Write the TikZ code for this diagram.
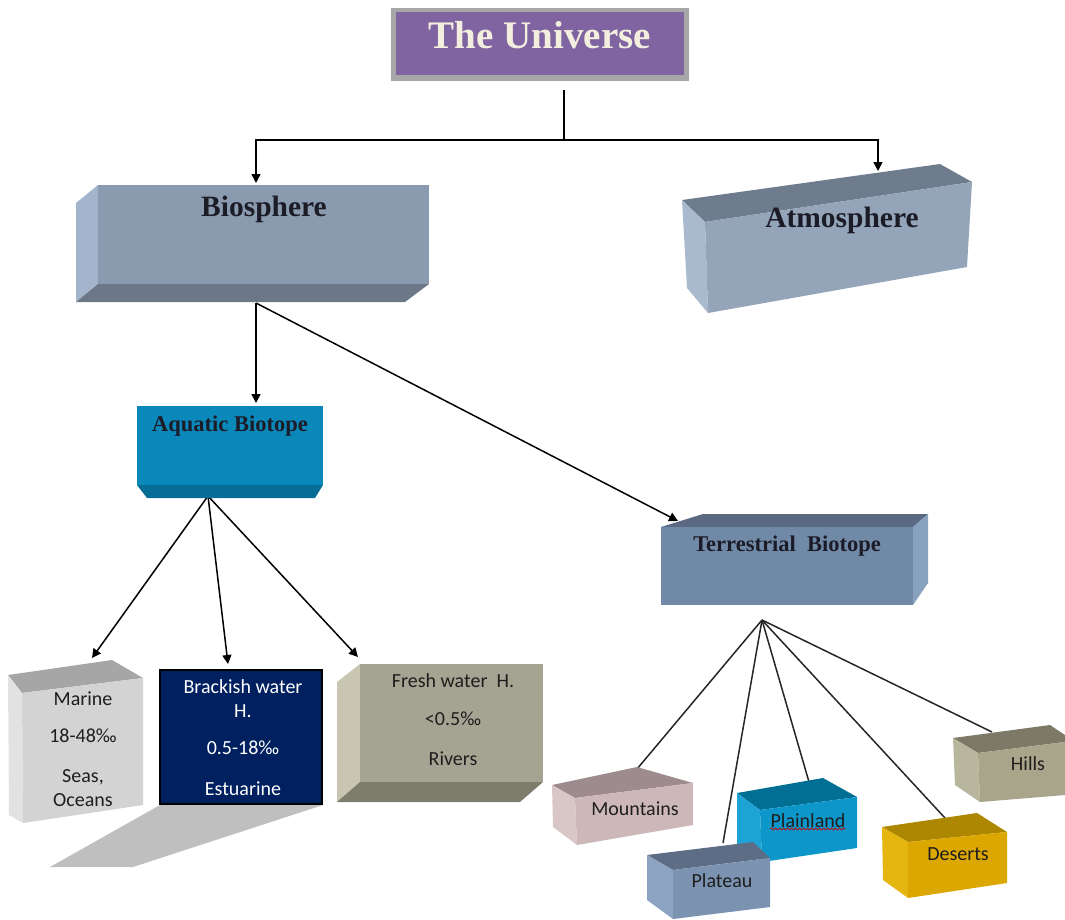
\documentclass[tikz,border=0pt]{standalone}
\usepackage{fontspec}
\setmainfont{Liberation Serif}
\newfontfamily\labelfont{Carlito}
\usetikzlibrary{arrows.meta,decorations.pathmorphing}

% colours of the boxes
\definecolor{unigray}{HTML}{A6A6A6}
\definecolor{unipurple}{HTML}{8064A2}
\definecolor{unitext}{HTML}{F3EFDF}
\definecolor{headtext}{HTML}{1C1C28}
\definecolor{lbltext}{HTML}{1E1E1E}
\definecolor{bioF}{HTML}{8B9BAF}\definecolor{bioL}{HTML}{A3B5CC}\definecolor{bioB}{HTML}{6C7888}
\definecolor{atmF}{HTML}{94A5BA}\definecolor{atmT}{HTML}{6F7C8E}\definecolor{atmL}{HTML}{A9BACE}
\definecolor{aqF}{HTML}{0A88BA}\definecolor{aqB}{HTML}{066D96}
\definecolor{terF}{HTML}{7089A6}\definecolor{terT}{HTML}{5B6A82}\definecolor{terR}{HTML}{87A1BE}
\definecolor{marF}{HTML}{D3D3D3}\definecolor{marT}{HTML}{A6A6A6}\definecolor{marL}{HTML}{E2E2E2}
\definecolor{brack}{HTML}{002060}\definecolor{brshadow}{HTML}{BFBFBF}
\definecolor{frF}{HTML}{A5A391}\definecolor{frL}{HTML}{C8C5B2}\definecolor{frB}{HTML}{7E7C6C}
\definecolor{mtF}{HTML}{CDB7B8}\definecolor{mtT}{HTML}{9D8B8D}\definecolor{mtL}{HTML}{D9C7C8}
\definecolor{plF}{HTML}{0C96CA}\definecolor{plT}{HTML}{006F93}\definecolor{plL}{HTML}{1DA3D5}
\definecolor{ptF}{HTML}{7B93B1}\definecolor{ptT}{HTML}{5D6D86}\definecolor{ptL}{HTML}{8CA4C2}
\definecolor{deF}{HTML}{DCA700}\definecolor{deT}{HTML}{AD8700}\definecolor{deL}{HTML}{E6B610}
\definecolor{hiF}{HTML}{A9A58A}\definecolor{hiT}{HTML}{7C7966}\definecolor{hiL}{HTML}{B9B69E}

\tikzset{
  unihead/.style={font=\bfseries\fontsize{39}{42}\selectfont, text=unitext, inner sep=0, anchor=base},
  head/.style={font=\bfseries\fontsize{29.5}{32}\selectfont, text=headtext, inner sep=0, anchor=base},
  subhead/.style={font=\bfseries\fontsize{22.5}{24}\selectfont, text=headtext, inner sep=0, anchor=base},
  lbl/.style={font=\labelfont\fontsize{20}{22}\selectfont, text=lbltext, inner sep=0, anchor=base},
  wlbl/.style={lbl, text=white},
  arr/.style={-{Triangle[width=9pt,length=9pt]}, line width=1.5pt, black},
  conn/.style={line width=1.5pt, black},
  link/.style={line width=1.5pt, black!85},
}

\begin{document}
\begin{tikzpicture}[x=1pt,y=-1pt]
\useasboundingbox (0,0) rectangle (1065,919);

% ---- The Universe ----
\fill[unigray] (391,8) rectangle (689,81);
\fill[unipurple] (396,12) rectangle (684,75);
\node[unihead] (universe) at (540,48) {The Universe};

% ---- connector anchors ----
\coordinate (u-out) at (564,90);
\coordinate (j) at (564,140);
\coordinate (bio-in) at (256,183);
\coordinate (atm-in) at (878,171);
\coordinate (bio-out) at (256,303);
\coordinate (aq-in) at (256,403);
\coordinate (ter-in) at (678,521);
\coordinate (aq-out) at (208,496);
\coordinate (mar-in) at (92,658);
\coordinate (br-in) at (228,664);
\coordinate (fr-in) at (358,657);
\coordinate (ter-out) at (762,620);
\coordinate (mt-in) at (637,769);
\coordinate (pt-in) at (723,843);
\coordinate (pl-in) at (809,782);
\coordinate (de-in) at (945,818);
\coordinate (hi-in) at (992,732);

% ---- connectors ----
\draw[conn] (u-out) -- (j);
\draw[arr] (j) -| (bio-in);
\draw[arr] (j) -| (atm-in);
\draw[arr] (bio-out) -- (aq-in);
\draw[arr] (bio-out) -- (ter-in);
\draw[arr] (aq-out) -- (mar-in);
\draw[arr] (aq-out) -- (br-in);
\draw[arr] (aq-out) -- (fr-in);
\draw[link] (ter-out) -- (mt-in);
\draw[link] (ter-out) -- (pt-in);
\draw[link] (ter-out) -- (pl-in);
\draw[link] (ter-out) -- (de-in);
\draw[link] (ter-out) -- (hi-in);

% ---- Biosphere ----
\fill[bioL] (98,185) -- (76,203) -- (76,302) -- (98,284) -- cycle;
\fill[bioB] (98,284) -- (429,284) -- (405,302) -- (76,302) -- cycle;
\fill[bioF] (98,185) rectangle (429,284);
\node[head] (bio) at (264,216) {Biosphere};

% ---- Atmosphere ----
\fill[atmT] (682,200) -- (940,164) -- (972,182) -- (705,222) -- cycle;
\fill[atmL] (682,200) -- (705,222) -- (708,313) -- (687,288) -- cycle;
\fill[atmF] (705,222) -- (972,182) -- (967,267) -- (708,313) -- cycle;
\node[head] (atm) at (842,227) {Atmosphere};

% ---- Aquatic Biotope ----
\fill[aqB] (137,485) -- (323,485) -- (315,498) -- (147,498) -- cycle;
\fill[aqF] (137,406) rectangle (323,485);
\node[subhead] (aq) at (230,431) {Aquatic Biotope};

% ---- Terrestrial Biotope ----
\fill[terT] (661,527) -- (703,514) -- (928,514) -- (913,527) -- cycle;
\fill[terR] (913,527) -- (928,514) -- (928,583) -- (913,605) -- cycle;
\fill[terF] (661,527) rectangle (913,605);
\node[subhead] (ter) at (787,551) {Terrestrial\ \ Biotope};

% ---- Marine ----
\fill[marT] (8,675) -- (112,660) -- (143,678) -- (22,693) -- cycle;
\fill[marL] (8,675) -- (22,693) -- (23,823) -- (9,815) -- cycle;
\fill[marF] (22,693) -- (143,678) -- (143,805) -- (23,823) -- cycle;
\node[lbl] (mar-1) at (83,705) {Marine};
\node[lbl] (mar-2) at (83,742) {18-48‰};
\node[lbl] (mar-3) at (83,782) {Seas,};
\node[lbl] (mar-4) at (83,806) {Oceans};

% ---- Brackish water ----
\fill[brshadow] (160,805) -- (323,805) -- (133,867) -- (50,867) -- cycle;
\filldraw[fill=brack, draw=black, line width=1.5pt] (160,670) rectangle (322,804);
\node[wlbl] (br-1) at (243,693) {Brackish water};
\node[wlbl] (br-2) at (243,717) {H.};
\node[wlbl] (br-3) at (243,754) {0.5-18‰};
\node[wlbl] (br-4) at (243,795) {Estuarine};

% ---- Fresh water ----
\fill[frL] (337,682) -- (360,664) -- (360,782) -- (337,802) -- cycle;
\fill[frB] (360,782) -- (543,782) -- (520,802) -- (337,802) -- cycle;
\fill[frF] (360,664) rectangle (543,782);
\node[lbl] (fr-1) at (453,687) {Fresh water\ \ H.};
\node[lbl] (fr-2) at (453,725) {<0.5‰};
\node[lbl] (fr-3) at (453,765) {Rivers};

% ---- Mountains ----
\fill[mtT] (552,785) -- (637,767) -- (693,783) -- (575,798) -- cycle;
\fill[mtL] (552,785) -- (575,798) -- (577,845) -- (553,827) -- cycle;
\fill[mtF] (575,798) -- (693,783) -- (693,825) -- (577,845) -- cycle;
\node[lbl] (mt) at (635,815) {Mountains};

% ---- Plainland ----
\fill[plT] (737,793) -- (823,778) -- (857,797) -- (760,810) -- cycle;
\fill[plL] (737,793) -- (760,810) -- (762,862) -- (737,845) -- cycle;
\fill[plF] (760,810) -- (857,797) -- (857,848) -- (762,862) -- cycle;
\node[lbl] (pl) at (808,827) {Plainland};
\draw[red!80!black, line width=0.8pt, decorate,
      decoration={snake, amplitude=1pt, segment length=4pt}]
  ([yshift=-2pt]pl.base west) -- ([yshift=-2pt]pl.base east);

% ---- Plateau ----
\fill[ptT] (647,855) -- (753,842) -- (770,858) -- (673,870) -- cycle;
\fill[ptL] (647,855) -- (673,870) -- (673,919) -- (647,900) -- cycle;
\fill[ptF] (673,870) -- (770,858) -- (770,907) -- (673,919) -- cycle;
\node[lbl] (pt) at (722,887) {Plateau};

% ---- Deserts ----
\fill[deT] (882,827) -- (977,813) -- (1007,832) -- (908,842) -- cycle;
\fill[deL] (882,827) -- (908,842) -- (908,898) -- (883,880) -- cycle;
\fill[deF] (908,842) -- (1007,832) -- (1007,883) -- (908,898) -- cycle;
\node[lbl] (de) at (958,860) {Deserts};

% ---- Hills ----
\fill[hiT] (953,738) -- (1050,725) -- (1065,735) -- (1065,742) -- (978,753) -- cycle;
\fill[hiL] (953,738) -- (978,753) -- (980,802) -- (955,785) -- cycle;
\fill[hiF] (978,753) -- (1065,742) -- (1065,795) -- (980,802) -- cycle;
\node[lbl] (hi) at (1028,770) {Hills};

\end{tikzpicture}
\end{document}
